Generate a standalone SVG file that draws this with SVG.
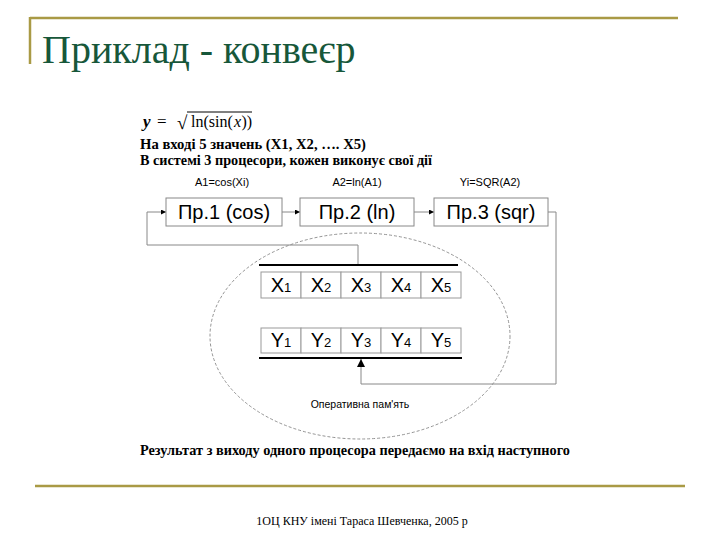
<svg xmlns="http://www.w3.org/2000/svg" width="720" height="540" viewBox="0 0 720 540">
<defs>
<style>
.frame{stroke:#a99a45;fill:none}
.box{fill:#fff;stroke:#888;stroke-width:1}
.cell{fill:#fff;stroke:#999;stroke-width:1}
.wire{fill:none;stroke:#888;stroke-width:1}
.bar{stroke:#000;stroke-width:2.2}
.sans{font-family:"Liberation Sans",Arial,sans-serif;fill:#000}
.serif{font-family:"Liberation Serif","Times New Roman",serif;fill:#000}
.bold{font-weight:bold}
</style>
<marker id="ah" viewBox="0 0 10 10" refX="10" refY="5" markerWidth="5" markerHeight="5" orient="auto" markerUnits="userSpaceOnUse">
<path d="M0,0 L10,5 L0,10 z" fill="#000"/>
</marker>
<marker id="ahb" viewBox="0 0 10 10" refX="10" refY="5" markerWidth="8" markerHeight="8" orient="auto" markerUnits="userSpaceOnUse">
<path d="M0,0 L10,5 L0,10 z" fill="#000"/>
</marker>
</defs>
<rect width="720" height="540" fill="#fff"/>
<g id="frame">
<line class="frame" x1="30" y1="18" x2="678" y2="18" stroke-width="2.5"/>
<line class="frame" x1="30" y1="17" x2="30" y2="64" stroke-width="2.5"/>
<line class="frame" x1="35" y1="486" x2="685" y2="486" stroke-width="2.5"/>
</g>
<text id="title" x="42" y="63" font-family="'Liberation Serif','Times New Roman',serif" font-size="40" fill="#17573a">Приклад - конвеєр</text>
<g id="formula">
<text class="serif" x="143" y="127" font-size="17" font-style="italic" font-weight="bold">y</text>
<text class="serif" x="157" y="127" font-size="17">=</text>
<text class="serif" x="177" y="129" font-size="19">√</text>
<line x1="187" y1="112" x2="252" y2="112" stroke="#000" stroke-width="1"/>
<text class="serif" x="191" y="127" font-size="16">ln(sin(</text>
<text class="serif" x="234" y="127" font-size="16" font-style="italic">x</text>
<text class="serif" x="241.5" y="127" font-size="16">))</text>
</g>
<text class="serif bold" x="140" y="149" font-size="14.5" textLength="226" lengthAdjust="spacingAndGlyphs">На вході 5 значень (X1, X2, …. X5)</text>
<text class="serif bold" x="140" y="165" font-size="14.5" textLength="292" lengthAdjust="spacingAndGlyphs">В системі 3 процесори, кожен виконує свої дії</text>
<g id="labels" class="sans" font-size="11" text-anchor="middle">
<text x="222" y="186">A1=cos(Xi)</text>
<text x="357" y="186">A2=ln(A1)</text>
<text x="490" y="186">Yi=SQR(A2)</text>
</g>
<g id="memory">
<ellipse cx="360" cy="336" rx="150" ry="103" fill="none" stroke="#888" stroke-width="0.9" stroke-dasharray="3,2"/>
<text class="sans" x="360" y="408" font-size="10.5" text-anchor="middle">Оперативна пам'ять</text>
</g>
<g id="connectors">
<line class="wire" x1="282" y1="212" x2="300" y2="212" marker-end="url(#ah)"/>
<line class="wire" x1="414" y1="212" x2="434" y2="212" marker-end="url(#ah)"/>
<polyline class="wire" points="358,264 358,245 147,245 147,212 166,212" marker-end="url(#ah)"/>
<polyline class="wire" points="548,212 556,212 556,384 361,384 361,359" marker-end="url(#ahb)"/>
</g>
<g id="p1">
<rect class="box" x="166" y="198" width="116" height="28"/>
<text class="sans" x="224" y="219" font-size="20" text-anchor="middle">Пр.1 (cos)</text>
</g>
<g id="p2">
<rect class="box" x="300" y="198" width="114" height="28"/>
<text class="sans" x="357" y="219" font-size="20" text-anchor="middle">Пр.2 (ln)</text>
</g>
<g id="p3">
<rect class="box" x="434" y="198" width="114" height="28"/>
<text class="sans" x="491" y="219" font-size="20" text-anchor="middle">Пр.3 (sqr)</text>
</g>
<g id="xrow">
<line class="bar" x1="259" y1="265" x2="458" y2="265"/>
<rect class="cell" x="261" y="272" width="40" height="26"/>
<rect class="cell" x="301" y="272" width="40" height="26"/>
<rect class="cell" x="341" y="272" width="40" height="26"/>
<rect class="cell" x="381" y="272" width="40" height="26"/>
<rect class="cell" x="421" y="272" width="40" height="26"/>
<g class="sans" font-size="20" text-anchor="middle">
<text x="281" y="292">X<tspan font-size="13">1</tspan></text>
<text x="321" y="292">X<tspan font-size="13">2</tspan></text>
<text x="361" y="292">X<tspan font-size="13">3</tspan></text>
<text x="401" y="292">X<tspan font-size="13">4</tspan></text>
<text x="441" y="292">X<tspan font-size="13">5</tspan></text>
</g>
</g>
<g id="yrow">
<rect class="cell" x="261" y="328" width="40" height="25"/>
<rect class="cell" x="301" y="328" width="40" height="25"/>
<rect class="cell" x="341" y="328" width="40" height="25"/>
<rect class="cell" x="381" y="328" width="40" height="25"/>
<rect class="cell" x="421" y="328" width="40" height="25"/>
<line class="bar" x1="259" y1="358" x2="462" y2="358"/>
<g class="sans" font-size="20" text-anchor="middle">
<text x="281" y="347">Y<tspan font-size="13">1</tspan></text>
<text x="321" y="347">Y<tspan font-size="13">2</tspan></text>
<text x="361" y="347">Y<tspan font-size="13">3</tspan></text>
<text x="401" y="347">Y<tspan font-size="13">4</tspan></text>
<text x="441" y="347">Y<tspan font-size="13">5</tspan></text>
</g>
</g>
<text class="serif bold" x="140" y="455" font-size="14.5" textLength="430" lengthAdjust="spacingAndGlyphs">Результат з виходу одного процесора передаємо на вхід наступного</text>
<text id="footer" class="serif" x="362" y="525" font-size="12" text-anchor="middle">1ОЦ КНУ імені Тараса Шевченка, 2005 р</text>
</svg>
